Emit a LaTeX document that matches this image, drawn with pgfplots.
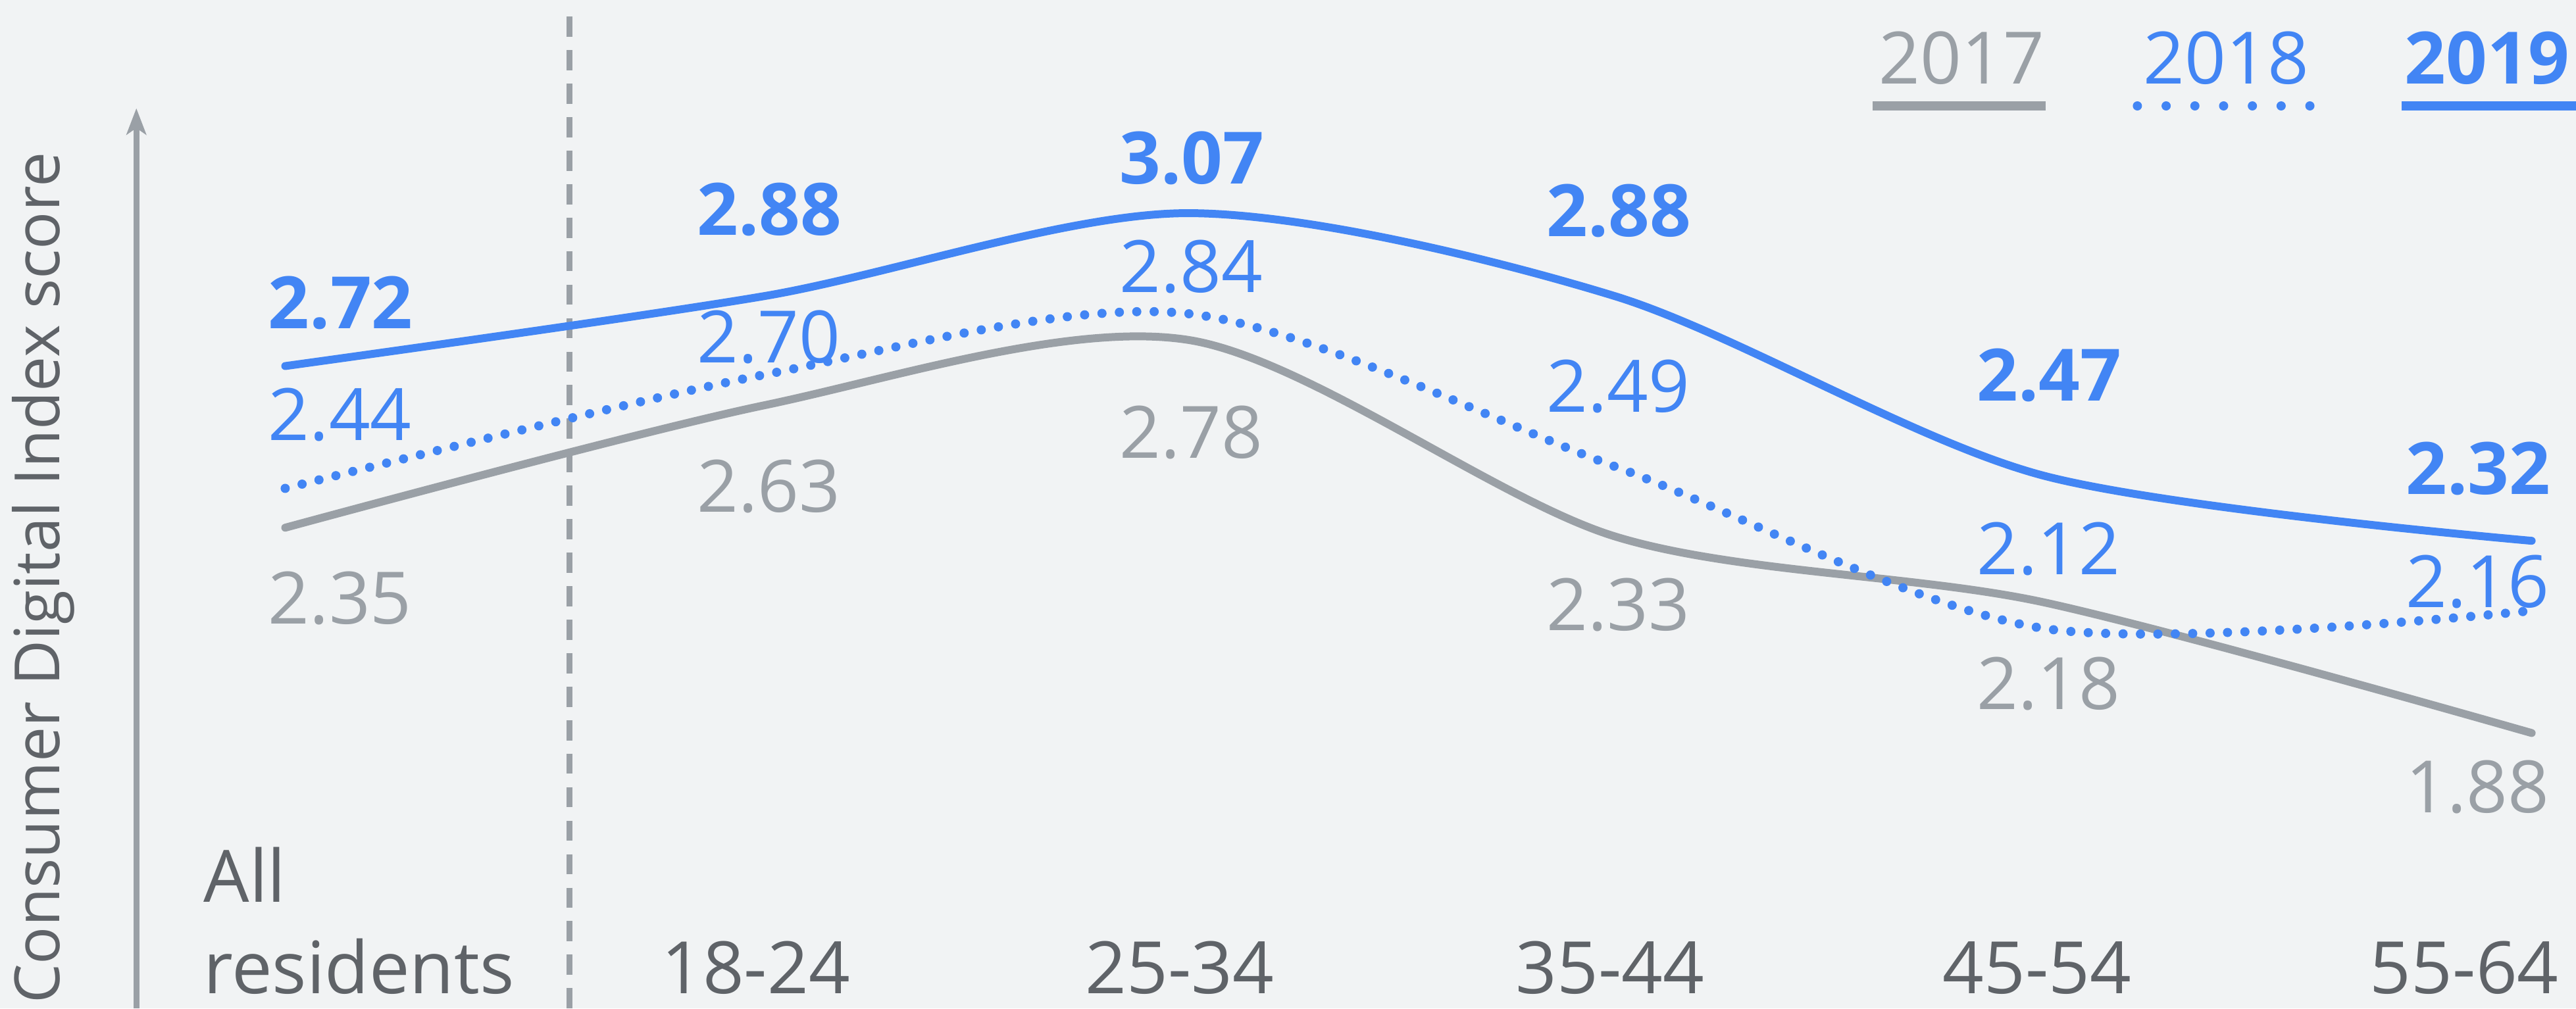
\documentclass[border=0pt]{standalone}
\usepackage{fontspec}
\setmainfont{Open Sans}
\usepackage{pgfplots}
\pgfplotsset{compat=1.18}
\usetikzlibrary{arrows.meta}

\definecolor{gblue}{HTML}{4285F4}
\definecolor{ggray}{HTML}{9AA0A6}
\definecolor{gtext}{HTML}{5F6368}
\definecolor{gbg}{HTML}{F1F3F4}

\newcommand{\lab}{\fontsize{22}{26}\selectfont}
\tikzset{lbl/.style={anchor=base west, inner sep=0pt, font=\lab}}

\begin{document}
\begin{tikzpicture}
\begin{axis}[
  scale only axis, width=784pt, height=307pt,
  xmin=0, xmax=1568, ymin=1.2497, ymax=3.558,
  axis line style={draw=none},
  axis background/.style={fill=gbg},
  ytick=\empty,
  xtick={218.5,460,718,980,1240,1500},
  xticklabels={{\vbox{\baselineskip=27.75pt\hbox{All}\hbox{residents}}},18-24,25-34,35-44,45-54,55-64},
  major tick length=0pt,
  xticklabel style={anchor=base, yshift=4.5pt, font=\lab, text=gtext, inner sep=0pt},
  ylabel={Consumer Digital Index score},
  ylabel style={at={(rel axis cs:0.0232,0.004)}, anchor=base west, inner sep=0pt,
    font=\fontsize{19}{23}\selectfont, text=gtext},
  clip=false,
]
  % axis arrow and separator
  \draw[ggray, line width=1.85pt, -{Stealth[length=8pt, width=6pt, inset=2pt]}]
    (axis cs:83,1.2497) -- (axis cs:83,3.310);
  \draw[ggray, line width=1.8pt, dash pattern=on 6.15pt off 4.05pt]
    (axis cs:346.5,3.520) -- (axis cs:346.5,1.2497);

  % 2017
  \addplot[ggray, line width=2.4pt, smooth, line cap=round]
    coordinates {(173.6,2.35)(465,2.63)(723,2.78)(983,2.33)(1243,2.18)(1541,1.88)};
  % 2018
  \addplot[gblue, line width=2.8pt, smooth, line cap=round, dash pattern=on 0pt off 5.3pt]
    coordinates {(173.6,2.44)(465,2.70)(723,2.84)(983,2.49)(1243,2.12)(1541,2.16)};
  % 2019
  \addplot[gblue, line width=2.4pt, smooth, line cap=round]
    coordinates {(173.6,2.72)(465,2.88)(723,3.07)(983,2.88)(1243,2.47)(1541,2.32)};

  % value labels
  \node[lbl, text=gblue, font=\lab\bfseries] at (axis cs:163,2.806) {2.72};
  \node[lbl, text=gblue] at (axis cs:163,2.5505) {2.44};
  \node[lbl, text=ggray] at (axis cs:163,2.1294) {2.35};
  \node[lbl, text=gblue, font=\lab\bfseries] at (axis cs:424,3.0204) {2.88};
  \node[lbl, text=gblue] at (axis cs:424,2.7272) {2.70};
  \node[lbl, text=ggray] at (axis cs:424,2.3851) {2.63};
  \node[lbl, text=gblue, font=\lab\bfseries] at (axis cs:681,3.1369) {3.07};
  \node[lbl, text=gblue] at (axis cs:681,2.8888) {2.84};
  \node[lbl, text=ggray] at (axis cs:681,2.5091) {2.78};
  \node[lbl, text=gblue, font=\lab\bfseries] at (axis cs:941,3.0167) {2.88};
  \node[lbl, text=gblue] at (axis cs:941,2.6144) {2.49};
  \node[lbl, text=ggray] at (axis cs:941,2.1144) {2.33};
  \node[lbl, text=gblue, font=\lab\bfseries] at (axis cs:1203,2.6407) {2.47};
  \node[lbl, text=gblue] at (axis cs:1203,2.2422) {2.12};
  \node[lbl, text=ggray] at (axis cs:1203,1.9339) {2.18};
  \node[lbl, text=gblue, font=\lab\bfseries] at (axis cs:1464,2.4264) {2.32};
  \node[lbl, text=gblue] at (axis cs:1464,2.167) {2.16};
  \node[lbl, text=ggray] at (axis cs:1464,1.6971) {1.88};

  % legend
  \node[anchor=base, inner sep=0pt, font=\lab, text=ggray] at (axis cs:1194,3.3663) {2017};
  \node[anchor=base, inner sep=0pt, font=\lab, text=gblue] at (axis cs:1355,3.3663) {2018};
  \node[anchor=base, inner sep=0pt, font=\lab\bfseries, text=gblue] at (axis cs:1514,3.3663) {2019};
  \draw[ggray, line width=2.65pt] (axis cs:1140,3.3155) -- (axis cs:1245,3.3155);
  \draw[gblue, line width=2.8pt, line cap=round, dash pattern=on 0pt off 8.75pt]
    (axis cs:1301,3.3155) -- (axis cs:1406,3.3155);
  \draw[gblue, line width=2.65pt] (axis cs:1462,3.3155) -- (axis cs:1575,3.3155);
\end{axis}
\pgfresetboundingbox
\useasboundingbox (0,0) rectangle (784pt,307pt);
\end{tikzpicture}
\end{document}
